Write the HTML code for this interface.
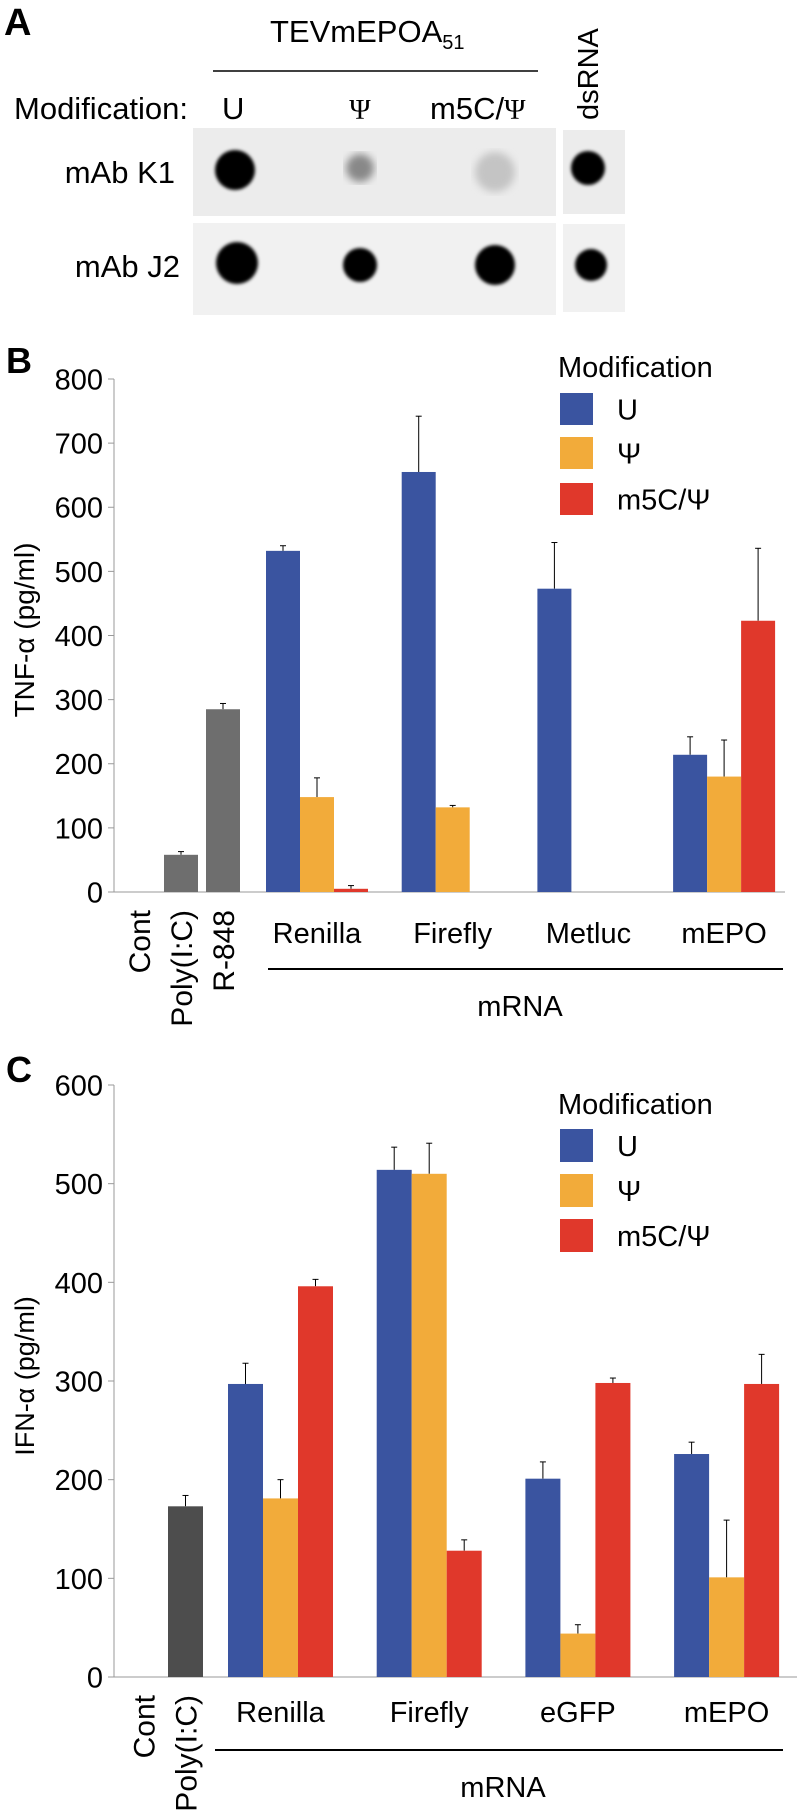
<!DOCTYPE html>
<html><head><meta charset="utf-8"><style>
body{margin:0;background:#fff}
svg{display:block;font-family:"Liberation Sans",sans-serif}
</style></head><body>
<svg id="fig" width="800" height="1816" viewBox="0 0 800 1816">
<g id="panelA">
<text x="4" y="35" font-size="38" font-weight="bold">A</text>
<text x="270" y="42" font-size="31">TEVmEPOA<tspan font-size="20" dy="7">51</tspan></text>
<line x1="213" y1="71" x2="538" y2="71" stroke="#000" stroke-width="1.6"/>
<text x="14" y="119" font-size="31">Modification:</text>
<text x="222" y="119" font-size="31">U</text>
<text x="360" y="119" font-size="29" text-anchor="middle" font-family="Liberation Serif,serif">Ψ</text>
<text x="430" y="119" font-size="31">m5C/<tspan font-family="Liberation Serif,serif" font-size="29">Ψ</tspan></text>
<text transform="translate(598,120) rotate(-90)" font-size="29">dsRNA</text>
<text x="175" y="183" font-size="31" text-anchor="end">mAb K1</text>
<text x="180" y="277" font-size="31" text-anchor="end">mAb J2</text>
<defs><filter id="bl"><feGaussianBlur stdDeviation="1.5"/></filter><filter id="bl2"><feGaussianBlur stdDeviation="4"/></filter></defs>
<rect x="193" y="128" width="363" height="88" fill="#ececec"/>
<rect x="563" y="130" width="62" height="84" fill="#ececec"/>
<rect x="193" y="223" width="363" height="92" fill="#f1f1f1"/>
<rect x="563" y="224" width="62" height="88" fill="#f1f1f1"/>
<circle cx="235" cy="170" r="20" fill="#000" filter="url(#bl)"/>
<circle cx="360" cy="168" r="14" fill="#888" filter="url(#bl2)"/>
<circle cx="495" cy="172" r="20" fill="#c4c4c4" filter="url(#bl2)"/>
<circle cx="588" cy="168" r="17" fill="#000" filter="url(#bl)"/>
<circle cx="237" cy="263" r="21" fill="#000" filter="url(#bl)"/>
<circle cx="360" cy="265" r="17" fill="#000" filter="url(#bl)"/>
<circle cx="495" cy="265" r="20" fill="#000" filter="url(#bl)"/>
<circle cx="591" cy="265" r="16" fill="#000" filter="url(#bl)"/>
</g>
<g id="panelB"></g>
<g id="panelC"></g>
</svg>
<script>
// Panel B data
const bCtrlLabels = ["Cont","Poly(I:C)","R-848"];
const bCtrlValues = [0, 58, 285];
const bCtrlErr = [0, 5, 9];
const bGroups = ["Renilla","Firefly","Metluc","mEPO"];
const bU = [532, 655, 473, 214];
const bUErr = [8, 87, 72, 28];
const bPsi = [148, 132, 0, 180];
const bPsiErr = [30, 3, 0, 57];
const bM5c = [5, 0, 0, 423];
const bM5cErr = [5, 0, 0, 113];
const bTicks = [0,100,200,300,400,500,600,700,800];
// Panel C data
const cCtrlLabels = ["Cont","Poly(I:C)"];
const cCtrlValues = [0, 173];
const cCtrlErr = [0, 11];
const cGroups = ["Renilla","Firefly","eGFP","mEPO"];
const cU = [297, 514, 201, 226];
const cUErr = [21, 23, 17, 12];
const cPsi = [181, 510, 44, 101];
const cPsiErr = [19, 31, 9, 58];
const cM5c = [396, 128, 298, 297];
const cM5cErr = [7, 11, 5, 30];
const cTicks = [0,100,200,300,400,500,600];

const NS="http://www.w3.org/2000/svg";
const COLORS=["#3a54a0","#f2ab3a","#e0382b"];
function mk(parent,tag,attrs,text){const e=document.createElementNS(NS,tag);for(const k in attrs)e.setAttribute(k,attrs[k]);if(text!==undefined)e.textContent=text;parent.appendChild(e);return e;}

function drawPanel(cfg){
  const g=document.getElementById(cfg.id);
  const y=v=>cfg.y0-(v/cfg.ymax)*(cfg.y0-cfg.ytop);
  const lab=mk(g,"text",{x:6,y:cfg.labelY,"font-size":36,"font-weight":"bold"},cfg.label);
  
  
  const ax=mk(g,"line",{x1:cfg.ax,y1:cfg.ytop,x2:cfg.ax,y2:cfg.y0,stroke:"#999","stroke-width":1});
  
  
  const bx=mk(g,"line",{x1:cfg.ax,y1:cfg.y0,x2:cfg.axEnd,y2:cfg.y0,stroke:"#999","stroke-width":1});
  
  
  cfg.ticks.forEach(t=>{
    const tk=mk(g,"line",{x1:cfg.ax-6,y1:y(t),x2:cfg.ax,y2:y(t),stroke:"#999"});
    
    
    const tl=mk(g,"text",{x:cfg.ax-11,y:y(t)+cfg.tickFs*0.36,"font-size":cfg.tickFs,"text-anchor":"end"},String(t));
    
    
  });
  const yt=mk(g,"text",{transform:`translate(34,${cfg.ytitleY}) rotate(-90)`,"font-size":cfg.ytitleFs,"text-anchor":"middle"},cfg.ytitle);
  
  
  function bar(x,v,e,color,name){
    if(v>0){
      const eb=mk(g,"line",{x1:x+cfg.bw/2,y1:y(v),x2:x+cfg.bw/2,y2:y(v+e),stroke:"#000","stroke-width":1});
      
      
      const cap=mk(g,"line",{x1:x+cfg.bw/2-3,y1:y(v+e),x2:x+cfg.bw/2+3,y2:y(v+e),stroke:"#000","stroke-width":1});
      
      
      const r=mk(g,"rect",{x:x,y:y(v),width:cfg.bw,height:cfg.y0-y(v),fill:color});
      
      
    }
  }
  cfg.ctrlValues.forEach((v,i)=>{
    const x=cfg.ctrlX0+i*cfg.ctrlStep;
    bar(x,v,cfg.ctrlErr[i],cfg.ctrlColor,'bar-'+cfg.ctrlLabels[i].toLowerCase().replace(/[^a-z0-9]/g,''));
    const t=mk(g,"text",{transform:`translate(${x+cfg.bw/2+11},${cfg.y0+18}) rotate(-90)`,"font-size":cfg.rotFs,"text-anchor":"end"},cfg.ctrlLabels[i]);
    
    
  });
  cfg.groups.forEach((gname,i)=>{
    const x0=cfg.gX0+i*cfg.gStep;
    [cfg.u,cfg.psi,cfg.m5c].forEach((arr,k)=>{
      const errs=[cfg.uErr,cfg.psiErr,cfg.m5cErr][k];
      bar(x0+k*cfg.bw,arr[i],errs[i],COLORS[k],'bar-'+gname.toLowerCase()+'-'+['u','psi','m5c'][k]);
    });
    const t=mk(g,"text",{x:x0+1.5*cfg.bw,y:cfg.xLabY,"font-size":cfg.xFs,"text-anchor":"middle"},gname);
    
    
  });
  const br=mk(g,"line",{x1:cfg.brX1,y1:cfg.brY,x2:cfg.brX2,y2:cfg.brY,stroke:"#000","stroke-width":2});
  
  
  const mr=mk(g,"text",{x:cfg.mrnaX,y:cfg.mrnaY,"font-size":cfg.xFs,"text-anchor":"middle"},"mRNA");
  
  
  const lt=mk(g,"text",{x:558,y:cfg.legTitleY,"font-size":cfg.legFs},"Modification");
  
  
  ["U","Ψ","m5C/Ψ"].forEach((s,k)=>{
    const yy=cfg.legY[k];
    const sw=mk(g,"rect",{x:560,y:yy,width:33,height:cfg.legH,fill:COLORS[k]});
    
    
    const tx=mk(g,"text",{x:617,y:yy+cfg.legH/2+cfg.legFs*0.36,"font-size":cfg.legFs},s);
    
    
  });
}

drawPanel({id:"panelB",label:"B",labelY:373,ax:114,axEnd:785,y0:892,ytop:379,ymax:800,ticks:bTicks,tickFs:29,
  ytitle:"TNF-α (pg/ml)",ytitleY:630,ytitleFs:28,bw:34,
  ctrlLabels:bCtrlLabels,ctrlValues:bCtrlValues,ctrlErr:bCtrlErr,ctrlX0:122,ctrlStep:42,ctrlColor:"#6e6e6e",
  groups:bGroups,u:bU,uErr:bUErr,psi:bPsi,psiErr:bPsiErr,m5c:bM5c,m5cErr:bM5cErr,gX0:266,gStep:135.7,
  xFs:29,rotFs:30,xLabY:943,brX1:268,brX2:783,brY:969,mrnaX:520,mrnaY:1016,
  legTitleY:377,legFs:29,legY:[393,437,483],legH:32});
drawPanel({id:"panelC",label:"C",labelY:1082,ax:114,axEnd:797,y0:1677,ytop:1085,ymax:600,ticks:cTicks,tickFs:29,
  ytitle:"IFN-α (pg/ml)",ytitleY:1376,ytitleFs:27,bw:35,
  ctrlLabels:cCtrlLabels,ctrlValues:cCtrlValues,ctrlErr:cCtrlErr,ctrlX0:126,ctrlStep:42,ctrlColor:"#4d4d4d",
  groups:cGroups,u:cU,uErr:cUErr,psi:cPsi,psiErr:cPsiErr,m5c:cM5c,m5cErr:cM5cErr,gX0:228,gStep:148.7,
  xFs:29,rotFs:30,xLabY:1722,brX1:215,brX2:783,brY:1750,mrnaX:503,mrnaY:1797,
  legTitleY:1114,legFs:29,legY:[1129,1174,1219],legH:33});
</script>
</body></html>
